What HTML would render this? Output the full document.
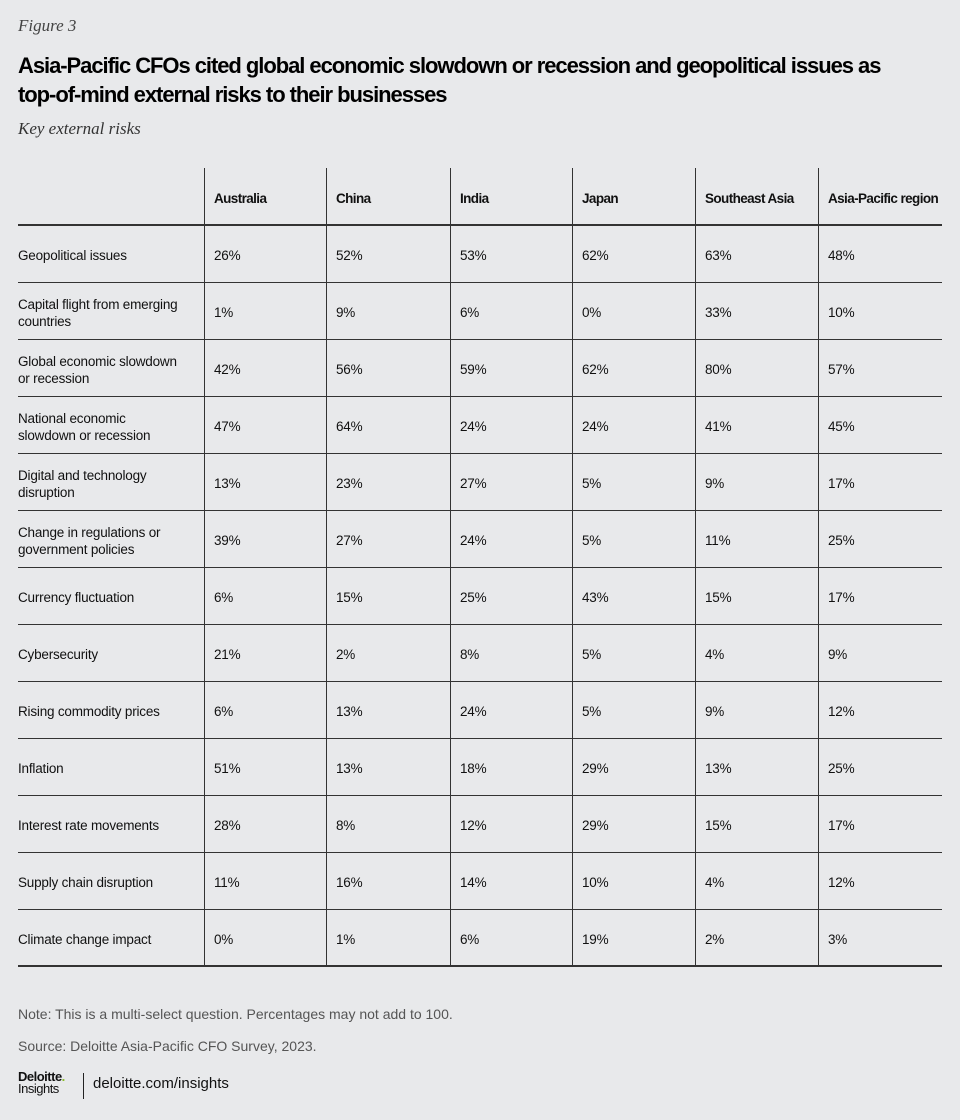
<!DOCTYPE html>
<html><head><meta charset="utf-8">
<style>
body{margin:0;background:#e8e9eb;width:960px;height:1120px;position:relative;font-family:"Liberation Sans",sans-serif;color:#111;overflow:hidden}
.a{position:absolute;white-space:nowrap}
.fig{left:18px;top:16px;font-family:"Liberation Serif",serif;font-style:italic;font-size:17px;color:#444}
.title{left:18px;top:51px;font-size:22px;font-weight:bold;letter-spacing:-1.05px;line-height:29px;color:#000}
.sub{left:18px;top:119px;font-family:"Liberation Serif",serif;font-style:italic;font-size:17px;color:#333}
.cell{position:absolute;font-size:13.5px;line-height:17px;display:flex;align-items:center;letter-spacing:-0.2px;white-space:nowrap}
.hd{font-weight:bold;letter-spacing:-0.6px}
.note{font-size:14px;color:#555;left:18px}
</style></head><body>
<div class="a fig">Figure 3</div>
<div class="a title">Asia-Pacific CFOs cited global economic slowdown or recession and geopolitical issues as<br>top-of-mind external risks to their businesses</div>
<div class="a sub">Key external risks</div>
<div id="tbl"></div>
<div class="a note" style="top:1006px">Note: This is a multi-select question. Percentages may not add to 100.</div>
<div class="a note" style="top:1038px">Source: Deloitte Asia-Pacific CFO Survey, 2023.</div>
<div class="a" style="left:18px;top:1071px;font-size:13px;font-weight:bold;letter-spacing:-0.5px;line-height:12px">Deloitte<span style="color:#86bc25">.</span><br><span style="font-weight:normal">Insights</span></div>
<div class="a" style="left:83px;top:1073px;width:1px;height:26px;background:#222"></div>
<div class="a" style="left:93px;top:1075px;font-size:15px">deloitte.com/insights</div>
<script>
const regions=["Australia","China","India","Japan","Southeast Asia","Asia-Pacific region"];
const risks=["Geopolitical issues","Capital flight from emerging<br>countries","Global economic slowdown<br>or recession","National economic<br>slowdown or recession","Digital and technology<br>disruption","Change in regulations or<br>government policies","Currency fluctuation","Cybersecurity","Rising commodity prices","Inflation","Interest rate movements","Supply chain disruption","Climate change impact"];
const australia=[26,1,42,47,13,39,6,21,6,51,28,11,0];
const china=[52,9,56,64,23,27,15,2,13,13,8,16,1];
const india=[53,6,59,24,27,24,25,8,24,18,12,14,6];
const japan=[62,0,62,24,5,5,43,5,5,29,29,10,19];
const southeastAsia=[63,33,80,41,9,11,15,4,9,13,15,4,2];
const apRegion=[48,10,57,45,17,25,17,9,12,25,17,12,3];
const series=[australia,china,india,japan,southeastAsia,apRegion];
const t=document.getElementById('tbl');
const colX=[18,204,326,450,572,695,818,942];
const top0=168,hH=57,rH=57;
function add(html,x,y,w,h,cls,name){const d=document.createElement('div');d.className='cell '+(cls||'');d.style.left=(x+(cls==='lbl'?0:10))+'px';d.style.top=(y+2)+'px';d.style.width=w+'px';d.style.height=h+'px';d.innerHTML=html;


t.appendChild(d);}
function line(x,y,w,h,name){const d=document.createElement('div');d.className='a';d.style.cssText+=`left:${x}px;top:${y}px;width:${w}px;height:${h}px;background:#333`;


t.appendChild(d);}
regions.forEach((r,i)=>add(r,colX[i+1],top0,colX[i+2]-colX[i+1]-10,hH,'hd','column-header'));
const n=risks.length;
for(let i=1;i<=6;i++){line(colX[i],top0,1,hH+n*rH,'column-divider');}
line(18,top0+hH-1,924,2,'header-rule');
risks.forEach((r,j)=>{const y=top0+hH+j*rH;
 add(r,18,y,180,rH,'lbl','row-label');
 series.forEach((s,i)=>add(s[j]+'%',colX[i+1],y,100,rH,'','value-cell'));
 if(j<n-1)line(18,y+rH,924,1,'row-rule');});
line(18,top0+hH+n*rH-1,924,2,'bottom-rule');
</script>
</body></html>
